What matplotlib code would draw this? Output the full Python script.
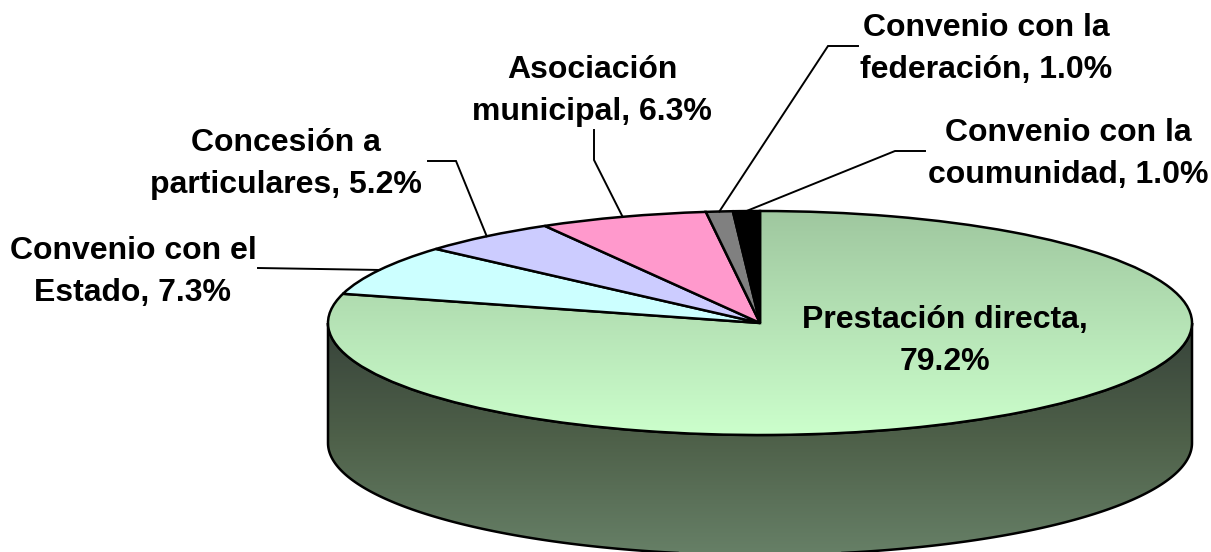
import numpy as np
import matplotlib
matplotlib.use("Agg")
import matplotlib.pyplot as plt
from matplotlib.colors import LinearSegmentedColormap
from matplotlib.patches import Polygon

plt.rcParams['font.family'] = ['Liberation Sans', 'DejaVu Sans']

categories = ["Prestación directa", "Convenio con el\nEstado", "Concesión a\nparticulares",
              "Asociación\nmunicipal", "Convenio con la\nfederación", "Convenio con la\ncoumunidad"]
values = [79.2, 7.3, 5.2, 6.3, 1.0, 1.0]
colors = ["none", "#CCFFFF", "#CCCCFF", "#FF99CC", "#808080", "#000000"]

W, H = 1211, 552
CX, CY, RX, RY = 760, 323, 432, 112
DEPTH = 120


def dx(px):
    return (np.asarray(px, dtype=float) - CX) / RX


def dy(py):
    return (CY - np.asarray(py, dtype=float)) / RY


fig = plt.figure(figsize=(W / 100, H / 100), dpi=100, facecolor="white")
ax = fig.add_axes([0, 0, 1, 1])
wedges, _ = ax.pie(values, colors=colors, startangle=90, counterclock=False, radius=1,
                   wedgeprops=dict(edgecolor="black", linewidth=1.8, zorder=3))
ax.set_aspect("auto")
ax.axis("off")

# Side wall of the disc
d = DEPTH / RY
t = np.linspace(np.pi, 2 * np.pi, 300)
wall = np.vstack([np.c_[np.cos(t), np.sin(t) - d],
                  np.c_[np.cos(t[::-1]), np.sin(t[::-1])]])
wall_patch = Polygon(wall, closed=True, facecolor="none", edgecolor="black", linewidth=1.8, zorder=2)
ax.add_patch(wall_patch)
wall_cmap = LinearSegmentedColormap.from_list("wall", ["#37433A", "#4E6049", "#667F66"])
grad = np.linspace(0, 1, 256).reshape(-1, 1)
im = ax.imshow(grad, cmap=wall_cmap, aspect="auto", zorder=1,
               extent=(-1, 1, dy(552), dy(323)), origin="upper", interpolation="bilinear")
im.set_clip_path(wall_patch)

# Gradient on the main slice
top_cmap = LinearSegmentedColormap.from_list("top", ["#9FC79F", "#CCFFCC"])
im2 = ax.imshow(grad, cmap=top_cmap, aspect="auto", zorder=2.5,
                extent=(-1, 1, -1, 1), origin="upper", interpolation="bilinear")
im2.set_clip_path(wedges[0])

ax.set_xlim(dx(0), dx(W))
ax.set_ylim(dy(H), dy(0))

# Labels
label_centres = [(945, 341), (133, 272), (286, 164), (592, 91), (986, 49), (1068, 154)]
for i, (name, val, (px, py)) in enumerate(zip(categories, values, label_centres)):
    sep = ",\n" if i == 0 else ", "
    ax.text(dx(px), dy(py), f"{name}{sep}{val:.1f}%", ha="center", va="center",
            fontsize=23, fontweight="bold", color="black", linespacing=1.5, zorder=5)

# Leader lines: from the label elbow to the slice's mid-angle on the rim
elbows = {
    1: [(258, 268)],
    2: [(428, 161), (456, 161)],
    3: [(594, 130), (594, 160)],
    4: [(858, 46), (828, 46)],
    5: [(925, 151), (895, 151)],
}
cum = np.cumsum(values)
for i, pts in elbows.items():
    mid = (cum[i] - values[i] / 2) / sum(values) * 2 * np.pi
    xs = [dx(p[0]) for p in pts] + [np.sin(mid)]
    ys = [dy(p[1]) for p in pts] + [np.cos(mid)]
    ax.plot(xs, ys, color="black", lw=1.4, zorder=4, solid_joinstyle="miter")

fig.savefig("out.png", dpi=100, facecolor="white")
